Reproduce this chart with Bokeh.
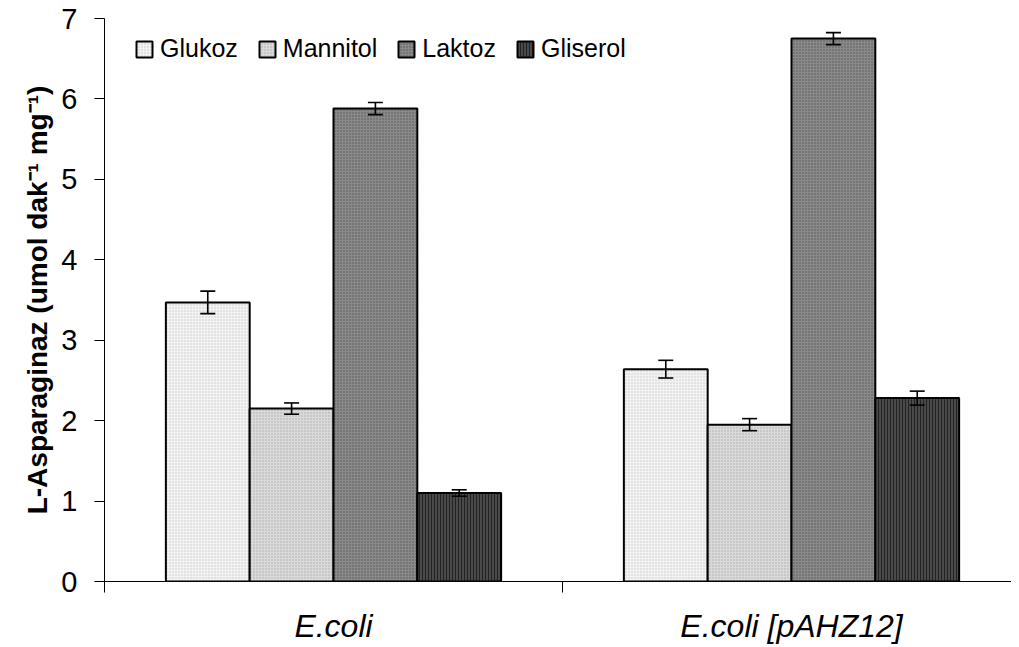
from bokeh.plotting import figure
from bokeh.models import (ColumnDataSource, Range1d, FixedTicker, Whisker, TeeHead,
                          Legend, LegendItem)
from bokeh.embed import file_html
from bokeh.resources import INLINE

# ---------------- data ----------------
strains = ["E.coli", "E.coli [pAHZ12]"]
sources = ["Glukoz", "Mannitol", "Laktoz", "Gliserol"]
glukoz = [3.47, 2.64]
mannitol = [2.15, 1.95]
laktoz = [5.88, 6.75]
gliserol = [1.10, 2.28]
glukoz_err = [0.14, 0.11]
mannitol_err = [0.07, 0.075]
laktoz_err = [0.075, 0.075]
gliserol_err = [0.04, 0.087]
y_ticks = [0, 1, 2, 3, 4, 5, 6, 7]

values = [glukoz, mannitol, laktoz, gliserol]
errors = [glukoz_err, mannitol_err, laktoz_err, gliserol_err]

styles = [
    dict(fill_color="#f3f3f3", hatch_pattern="dot", hatch_color="#c4c4c4", hatch_scale=3, hatch_weight=0.6),
    dict(fill_color="#dadada", hatch_pattern="dot", hatch_color="#aaaaaa", hatch_scale=3, hatch_weight=0.6),
    dict(fill_color="#8a8a8a", hatch_pattern="dot", hatch_color="#555555", hatch_scale=3, hatch_weight=1.0),
    dict(fill_color="#4a4a4a", hatch_pattern="vertical_line", hatch_color="#222222", hatch_scale=3, hatch_weight=1.0),
]

BAR_W = 0.183
FONT = "Liberation Sans"

W, H = 1011, 647
LEFT, TOP, BOTTOM = 104, 18, 66

p = figure(width=W, height=H, output_backend="svg", toolbar_location=None,
           x_range=Range1d(0, (W - LEFT) / 458), y_range=Range1d(0, 7),
           min_border_left=LEFT, min_border_right=0, min_border_top=TOP,
           min_border_bottom=BOTTOM)
p.outline_line_color = None
p.xgrid.visible = False
p.ygrid.visible = False
p.background_fill_color = "white"
p.border_fill_color = "white"

items = []
n = len(sources)
for k, (name, vals, errs, st) in enumerate(zip(sources, values, errors, styles)):
    xs = [i + 0.5 + (k - (n - 1) / 2) * BAR_W for i in range(len(strains))]
    src = ColumnDataSource(dict(x=xs, top=vals,
                                upper=[v + e for v, e in zip(vals, errs)],
                                lower=[v - e for v, e in zip(vals, errs)]))
    r = p.vbar(x="x", top="top", bottom=0, width=BAR_W, source=src,
               line_color="black", line_width=2, **st)
    items.append(LegendItem(label=name, renderers=[r]))
    w = Whisker(base="x", upper="upper", lower="lower", source=src,
                line_color="black", line_width=1.6, level="overlay",
                upper_head=TeeHead(size=15, line_width=1.6, line_color="black"),
                lower_head=TeeHead(size=15, line_width=1.6, line_color="black"))
    p.add_layout(w)

legend = Legend(items=items, orientation="horizontal", location=(30, 518),
                label_text_font=FONT, label_text_font_size="25px",
                label_text_color="black",
                glyph_width=20, glyph_height=20, label_standoff=6, spacing=19,
                padding=0, margin=0, border_line_color=None,
                background_fill_alpha=0)
p.add_layout(legend)

# y axis
p.yaxis.ticker = FixedTicker(ticks=y_ticks)
p.yaxis.axis_label = "L-Asparaginaz (umol dak\u207b\u00b9 mg\u207b\u00b9)"
p.yaxis.axis_label_text_font = FONT
p.yaxis.axis_label_text_font_style = "bold"
p.yaxis.axis_label_text_font_size = "28px"
p.yaxis.axis_label_text_color = "black"
p.yaxis.axis_label_standoff = 5
p.yaxis.major_label_text_font = FONT
p.yaxis.major_label_text_font_size = "29px"
p.yaxis.major_label_text_color = "black"
p.yaxis.major_tick_out = 10
p.yaxis.major_tick_in = 0
p.yaxis.minor_tick_out = 0
p.yaxis.minor_tick_in = 0
p.yaxis.major_label_standoff = 17
p.yaxis.axis_line_color = "black"
p.yaxis.major_tick_line_color = "black"

# x axis: labels at category centres, ticks at category boundaries
centres = [i + 0.5 for i in range(len(strains))]
bounds = [i for i in range(len(strains) + 1)]
p.xaxis.ticker = FixedTicker(ticks=centres, minor_ticks=bounds)
p.xaxis.major_label_overrides = {c: s for c, s in zip(centres, strains)}
p.xaxis.major_tick_out = 0
p.xaxis.major_tick_in = 0
p.xaxis.minor_tick_out = 11
p.xaxis.minor_tick_in = 0
p.xaxis.minor_tick_line_color = "black"
p.xaxis.axis_line_color = "black"
p.xaxis.major_label_text_font = FONT
p.xaxis.major_label_text_font_style = "italic"
p.xaxis.major_label_text_font_size = "32px"
p.xaxis.major_label_text_color = "black"
p.xaxis.major_label_standoff = 15

open("out.html", "w").write(file_html(p, INLINE))
